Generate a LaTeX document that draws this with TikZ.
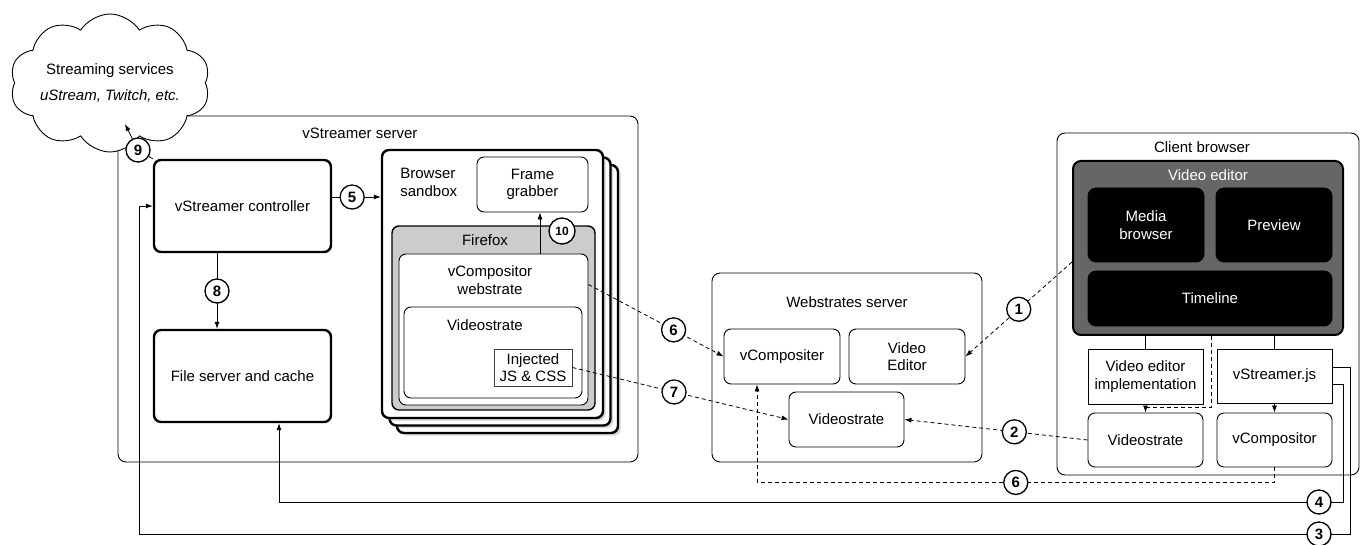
\documentclass[tikz,border=0pt]{standalone}
\usepackage{fontspec}
\setmainfont{Liberation Sans}
\usetikzlibrary{arrows.meta,shapes.symbols,shadows}

\begin{document}
\begin{tikzpicture}[x=1pt,y=-1pt,line width=0.8pt,font=\fontsize{15}{17.5}\selectfont,
	>={Latex[length=7pt,width=5pt]},
	box/.style={draw,line width=0.9pt,rounded corners=7pt,fill=white,align=center},
	heavy/.style={box,line width=2.4pt},
	plain/.style={draw,line width=0.9pt,fill=white,align=center},
	dark/.style={draw,fill=black,rounded corners=8pt,text=white,align=center},
	num/.style={circle,draw,solid,line width=1.3pt,fill=white,inner sep=0pt,minimum size=24pt,
		font=\bfseries\fontsize{15}{15}\selectfont,
		drop shadow={opacity=0.25,shadow xshift=1pt,shadow yshift=-1pt}},
	dashy/.style={dash pattern=on 4pt off 3pt}]
		\useasboundingbox (0,0) rectangle (1361,545);
		% outer boxes
		\draw[line width=0.9pt,rounded corners=8pt] (118,116) rectangle (638,462);
		\draw[line width=0.9pt,rounded corners=8pt] (712,273) rectangle (982,462);
		\draw[line width=0.9pt,rounded corners=8pt] (1057,133) rectangle (1359,475);
		\node (vsname) at (360,133) {vStreamer server};
		\node (wsname) at (847,302) {Webstrates server};
		\node (cbname) at (1202,147) {Client browser};
		\node[cloud,cloud puffs=10,cloud puff arc=115,aspect=1.5,draw,fill=white,line width=0.9pt,
			inner xsep=-16pt,inner ysep=-18pt,minimum width=200pt,minimum height=138pt,
			align=center] (stream) at (110,83)
			{Streaming services\\[9pt]\textit{uStream, Twitch, etc.}};
		% vStreamer server
		\node[heavy,minimum width=177pt,minimum height=92pt] (ctrl) at (242.5,206) {vStreamer controller};
		\node[heavy,minimum width=177pt,minimum height=92pt] (files) at (242.5,376) {File server and cache};
		\foreach \d in {15,7.5}
			\draw[line width=2.4pt,rounded corners=7pt,fill=white,drop shadow={opacity=0.3}]
				(382+\d,150+\d) rectangle (603+\d,418+\d);
		\node[heavy,minimum width=221pt,minimum height=268pt,drop shadow={opacity=0.3}] (sandbox) at (492.5,284) {};
		\node[align=left,anchor=west,inner sep=0pt] (sbname) at (400,182.5) {Browser\\sandbox};
		\node[box,minimum width=111pt,minimum height=55pt] (grabber) at (532.5,184.5) {Frame\\grabber};
		\node[box,fill=black!20,line width=1.4pt,minimum width=203pt,minimum height=184pt] (firefox) at (493.5,318) {};
		\node (ffname) at (485,240) {Firefox};
		\node[box,minimum width=189pt,minimum height=151pt] (vcw) at (493.5,329.5) {};
		\node[align=center] (vcwname) at (490,280) {vCompositor\\webstrate};
		\node[box,minimum width=178pt,minimum height=91pt] (wvideo) at (493,352.5) {};
		\node (wvname) at (485,325) {Videostrate};
		\node[plain,draw=black!75,line width=0.9pt,minimum width=78pt,minimum height=37pt,inner sep=0pt] (inj) at (533,367.5) {Injected\\JS \& CSS};
		% Webstrates server
		\node[box,minimum width=116pt,minimum height=55pt] (vcompr) at (782,356.5) {vCompositer};
		\node[box,minimum width=116pt,minimum height=55pt] (vedr) at (907,356.5) {Video\\Editor};
		\node[box,minimum width=115pt,minimum height=55pt] (wvstr) at (846.5,419.5) {Videostrate};
		% Client browser
		\node[draw,fill=black!60,line width=2pt,rounded corners=8pt,minimum width=270pt,minimum height=174pt] (vedit) at (1208,248) {};
		\node[text=white] (vename) at (1208,175) {Video editor};
		\node[dark,minimum width=116pt,minimum height=74pt] (media) at (1146,225) {Media\\browser};
		\node[dark,minimum width=116pt,minimum height=74pt] (preview) at (1274,225) {Preview};
		\node[dark,minimum width=244pt,minimum height=55pt] (timeline) at (1210,298.5) {Timeline};
		\node[plain,minimum width=115pt,minimum height=55pt] (impl) at (1145.5,376.5) {Video editor\\implementation};
		\node[plain,minimum width=115pt,minimum height=54pt] (vsjs) at (1274.5,376) {vStreamer.js};
		\node[box,minimum width=115pt,minimum height=54pt] (vstr) at (1145.5,440) {Videostrate};
		\node[box,minimum width=115pt,minimum height=54pt] (vcomp) at (1274.5,440) {vCompositor};
		% connectors
		\draw (vedit.south -| impl.north) -- (impl.north);
		\draw (vedit.south -| vsjs.north) -- (vsjs.north);
		\draw[dashy,->] ([xshift=3pt]vedit.south) |- ([yshift=5pt]vstr.north) -- (vstr.north);
		\draw[dashy,->] (vsjs) -- (vcomp);
		\draw[->] ([yshift=9pt]vsjs.east) -| (1350,534) -- (139,534) |- (ctrl.west);
		\draw[->] ([yshift=-8pt]vsjs.east) -| (1343,502) -- (279,502) -- ([xshift=36.5pt]files.south);
		\node[num] (n3) at (1319,534) {3};
		\node[num] (n4) at (1319,502) {4};
		\draw[dashy,->] ([yshift=-14pt]vedit.west) -- node[num]{1} (vedr.east);
		\draw[dashy,->] (vstr.west) -- node[num,pos=0.4]{2} (wvstr.east);
		\draw[dashy,->] (vcomp.south) -- ++(0,15) -| node[num,pos=0.25]{6} ([xshift=-25pt]vcompr.south);
		\draw[dashy,->] ([yshift=45pt]vcw.east) -- node[num,pos=0.63]{6} (vcompr.west);
		\draw[dashy,->] (inj.east) -- node[num,pos=0.47]{7} (wvstr.west);
		\draw[->] ([xshift=-25.5pt]ctrl.south) -- node[num]{8} ([xshift=-25.5pt]files.north);
		\coordinate (a5) at ([yshift=9pt]ctrl.east);
		\draw[->] (a5) -- node[num,pos=0.41]{5} (a5 -| sandbox.west);
		\draw[->] ([xshift=46.5pt]vcw.north) -- ([xshift=7.5pt]grabber.south);
		\node[num,minimum size=26pt,font=\bfseries\fontsize{12}{12}\selectfont] (n10) at (562,231) {10};
		\coordinate (tip9) at (125,124);
		\node[num] (n9) at (138,150) {9};
		\draw (ctrl.north west) -- (n9);
		\draw[->] (n9) -- (tip9);
	\end{tikzpicture}
\end{document}
